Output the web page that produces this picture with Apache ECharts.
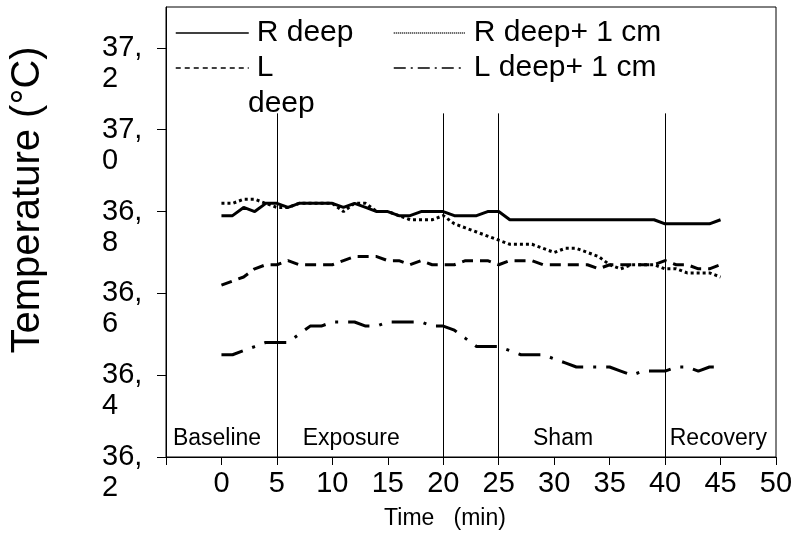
<!DOCTYPE html>
<html><head><meta charset="utf-8">
<script src="https://cdn.jsdelivr.net/npm/echarts@6/dist/echarts.min.js"></script>
<style>html,body{margin:0;padding:0;background:#fff}#c{width:799px;height:534px}</style>
</head><body><div id="c"></div>
<script>
const minutes = [0,1,2,3,4,5,6,7,8,9,10,11,12,13,14,15,16,17,18,19,20,21,22,23,24,25,26,27,28,29,30,31,32,33,34,35,36,37,38,39,40,41,42,43,44,45];
const rDeep = [36.79,36.79,36.81,36.80,36.82,36.82,36.81,36.82,36.82,36.82,36.82,36.81,36.82,36.81,36.80,36.80,36.79,36.79,36.80,36.80,36.80,36.79,36.79,36.79,36.80,36.80,36.78,36.78,36.78,36.78,36.78,36.78,36.78,36.78,36.78,36.78,36.78,36.78,36.78,36.78,36.77,36.77,36.77,36.77,36.77,36.78];
const lDeep = [36.62,36.63,36.64,36.66,36.67,36.67,36.68,36.67,36.67,36.67,36.67,36.68,36.69,36.69,36.69,36.68,36.68,36.67,36.68,36.67,36.67,36.67,36.68,36.68,36.68,36.67,36.68,36.68,36.68,36.67,36.67,36.67,36.67,36.67,36.66,36.67,36.67,36.67,36.67,36.67,36.68,36.67,36.67,36.66,36.66,36.67];
const rDeep1 = [36.82,36.82,36.83,36.83,36.82,36.81,36.81,36.82,36.82,36.82,36.82,36.80,36.82,36.82,36.80,36.80,36.79,36.78,36.78,36.78,36.79,36.77,36.76,36.75,36.74,36.73,36.72,36.72,36.72,36.71,36.70,36.71,36.71,36.70,36.69,36.67,36.66,36.67,36.67,36.67,36.66,36.66,36.65,36.65,36.65,36.64];
const lDeep1 = [36.45,36.45,36.46,36.47,36.48,36.48,36.48,36.50,36.52,36.52,36.53,36.53,36.53,36.52,36.52,36.53,36.53,36.53,36.53,36.52,36.52,36.51,36.49,36.47,36.47,36.47,36.46,36.45,36.45,36.45,36.44,36.43,36.42,36.42,36.42,36.42,36.41,36.40,36.41,36.41,36.41,36.42,36.42,36.41,36.42,36.42];
const seriesNames = ['R deep', 'L deep', 'R deep+ 1 cm', 'L deep+ 1 cm'];
const yTicks = [36.2, 36.4, 36.6, 36.8, 37.0, 37.2];
const xTicks = [0, 5, 10, 15, 20, 25, 30, 35, 40, 45, 50];
const phaseNames = ['Baseline', 'Exposure', 'Sham', 'Recovery'];
const phaseBounds = [5, 20, 25, 40];
const phaseLabelX = [-0.4, 11.7, 30.8, 44.8];
const phaseLabelY = 36.245;
const phaseLineTop = 37.04;

const FONT = '"Liberation Sans", Arial, Helvetica, sans-serif';
const pairs = ys => minutes.map((t, i) => [t, ys[i]]);
const chart = echarts.init(document.getElementById('c'), null, {renderer: 'canvas'});

function legendItem(name, left, top, width, dash) {
  return {
    data: [name], left: left, top: top, itemWidth: width, itemHeight: 30, padding: 0,
    selectedMode: false, orient: 'horizontal',
    formatter: n => (n === 'L deep' ? 'L' : n),
    textStyle: {fontSize: 30, fontFamily: FONT, color: '#000', padding: [0, 0, 0, 3]},
    lineStyle: {width: 1.5, type: dash},
    itemStyle: {opacity: 0}
  };
}

const lineBase = {type: 'line', symbol: 'none', showSymbol: false, silent: true, animation: false};

chart.setOption({
  animation: false,
  backgroundColor: '#fff',
  textStyle: {fontFamily: FONT, color: '#000'},
  grid: {left: 166, right: 23, top: 7, bottom: 77, show: true, borderColor: '#000', borderWidth: 1},
  legend: [
    legendItem('R deep', 175, 18, 73, 'solid'),
    legendItem('L deep', 175, 53, 73, [5, 4]),
    legendItem('R deep+ 1 cm', 393, 18, 72, [1, 1]),
    legendItem('L deep+ 1 cm', 393, 53, 72, [12, 5, 2, 5])
  ],
  xAxis: {
    type: 'value', min: -5, max: 50, interval: 5,
    axisLine: {show: true, onZero: false, lineStyle: {color: '#000', width: 1}},
    axisTick: {show: true, length: 8, lineStyle: {color: '#000'}},
    axisLabel: {customValues: xTicks, fontSize: 29, color: '#000', fontFamily: FONT, margin: 12},
    splitLine: {show: false}
  },
  yAxis: {
    type: 'value', min: 36.2, max: 37.3,
    axisLine: {show: true, onZero: false, lineStyle: {color: '#000', width: 1}},
    axisTick: {show: true, length: 9, customValues: yTicks, lineStyle: {color: '#000'}},
    axisLabel: {
      customValues: yTicks,
      formatter: v => { const s = Number(v).toFixed(1).split('.'); return '{a|' + s[0] + ',}\n{a|' + s[1] + '}'; },
      rich: {a: {width: 43, align: 'left', fontSize: 29, lineHeight: 31, fontFamily: FONT, color: '#000'}},
      margin: 21, padding: [31, 0, 0, 0], verticalAlign: 'middle'
    },
    splitLine: {show: false}
  },
  graphic: [
    {type: 'text', x: 28, y: 200, rotation: Math.PI / 2, silent: true,
     style: {text: 'Temperature (°C)', fontSize: 40, fontFamily: FONT, fill: '#000', align: 'center', verticalAlign: 'middle'}},
    {type: 'text', x: 445, y: 519, silent: true,
     style: {text: 'Time   (min)', fontSize: 23, fontFamily: FONT, fill: '#000', align: 'center', verticalAlign: 'middle'}},
    {type: 'text', x: 248, y: 104, silent: true,
     style: {text: 'deep', fontSize: 30, fontFamily: FONT, fill: '#000', align: 'left', verticalAlign: 'middle'}}
  ],
  series: [
    Object.assign({}, lineBase, {
      name: seriesNames[0], data: pairs(rDeep), z: 5,
      lineStyle: {color: '#000', width: 3, type: 'solid'}, itemStyle: {color: '#000'},
      markLine: {
        silent: true, symbol: 'none', animation: false, label: {show: false},
        lineStyle: {color: '#000', width: 1, type: 'solid'},
        data: phaseBounds.map(x => [{coord: [x, yTicks[0]]}, {coord: [x, phaseLineTop]}])
      }
    }),
    Object.assign({}, lineBase, {
      name: seriesNames[1], data: pairs(lDeep), z: 4,
      lineStyle: {color: '#000', width: 3, type: [11, 7]}, itemStyle: {color: '#000'}
    }),
    Object.assign({}, lineBase, {
      name: seriesNames[2], data: pairs(rDeep1), z: 4,
      lineStyle: {color: '#000', width: 3, type: [3, 3]}, itemStyle: {color: '#000'}
    }),
    Object.assign({}, lineBase, {
      name: seriesNames[3], data: pairs(lDeep1), z: 4,
      lineStyle: {color: '#000', width: 3, type: [22, 10, 3, 10]}, itemStyle: {color: '#000'}
    }),
    {
      type: 'scatter', name: 'phases', silent: true, animation: false, symbolSize: 0,
      itemStyle: {color: '#000', opacity: 1},
      data: phaseNames.map((n, i) => ({name: n, value: [phaseLabelX[i], phaseLabelY]})),
      label: {show: true, position: 'inside', formatter: '{b}', fontSize: 23, color: '#000', opacity: 1,
              textBorderWidth: 0, textBorderColor: 'transparent', fontFamily: FONT},
      z: 6
    }
  ]
});
</script>
</body></html>
